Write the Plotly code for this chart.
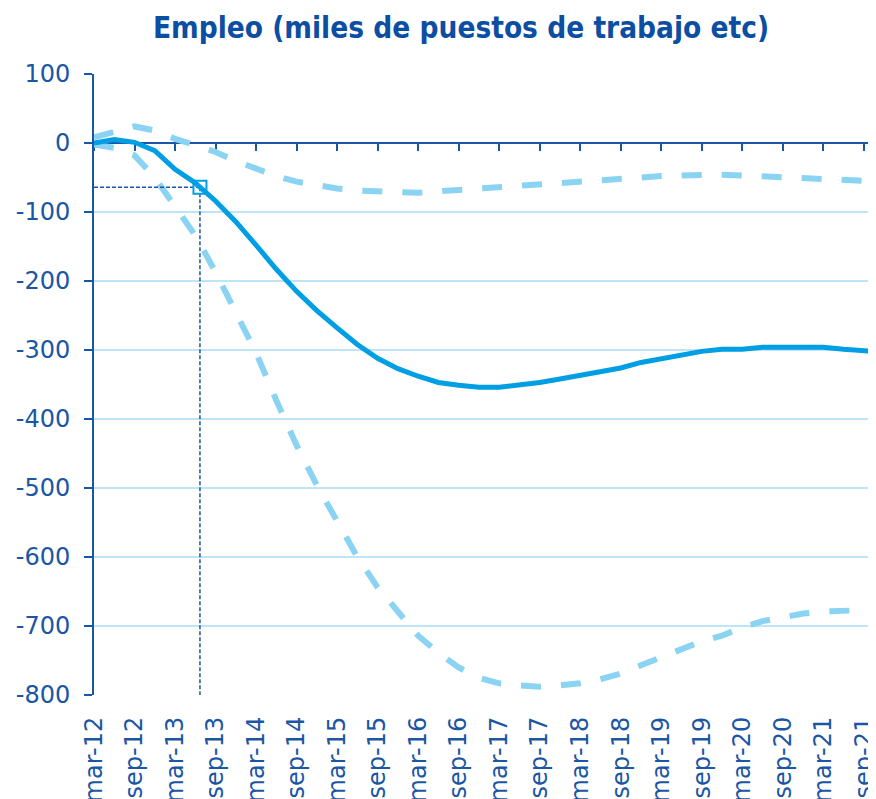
import plotly.graph_objects as go

# Quarterly periods, mar-12 .. dec-21 (index 0 = mar-12)
periods = ["mar-12", "jun-12", "sep-12", "dic-12", "mar-13", "jun-13", "sep-13", "dic-13",
           "mar-14", "jun-14", "sep-14", "dic-14", "mar-15", "jun-15", "sep-15", "dic-15",
           "mar-16", "jun-16", "sep-16", "dic-16", "mar-17", "jun-17", "sep-17", "dic-17",
           "mar-18", "jun-18", "sep-18", "dic-18", "mar-19", "jun-19", "sep-19", "dic-19",
           "mar-20", "jun-20", "sep-20", "dic-20", "mar-21", "jun-21", "sep-21", "dic-21"]

central = [0, 5, 1, -11, -38, -58, -84, -114, -148, -183, -215, -243, -268, -292, -312, -327,
           -338, -347, -351, -354, -354, -351, -347, -342, -337, -332, -326, -318, -313, -308,
           -302, -299, -299, -296, -296, -296, -296, -299, -302, -303]

upper = [8, 17, 24, 18, 6, -3, -13, -26, -38, -48, -56, -62, -66, -69, -70, -71,
         -72, -70, -68, -66, -63, -60, -58, -57, -55, -53, -51, -50, -48, -47,
         -46, -46, -47, -48, -49, -50, -52, -52, -53, -56]

lower = [-2, -7, -18, -50, -92, -134, -187, -246, -304, -373, -438, -496, -548, -600, -644, -680,
         -714, -739, -760, -775, -783, -786, -788, -786, -783, -777, -769, -757, -745, -733,
         -722, -714, -702, -693, -687, -682, -679, -677, -677, -677]

tick_labels = ["mar-12", "sep-12", "mar-13", "sep-13", "mar-14", "sep-14", "mar-15", "sep-15",
               "mar-16", "sep-16", "mar-17", "sep-17", "mar-18", "sep-18", "mar-19", "sep-19",
               "mar-20", "sep-20", "mar-21", "sep-21"]

y_tick_vals = [100, 0, -100, -200, -300, -400, -500, -600, -700, -800]
y_tick_text = ["100", "0", "-100", "-200", "-300", "-400", "-500", "-600", "-700", "-800"]

highlight_x = 5.23
highlight_y = -64

y_min, y_max = -800, 100

x = list(range(len(periods)))
tick_vals = x[::2][:len(tick_labels)]

DARK = "#1B56A5"
SOLID = "#009FE3"
LIGHT = "#8BD3F3"
GRID = "#BDE5F7"

fig = go.Figure()

fig.add_trace(go.Scatter(x=x, y=lower, mode="lines", hoverinfo="skip",
                         line=dict(color=LIGHT, width=6, dash="20px,20px")))
fig.add_trace(go.Scatter(x=x, y=upper, mode="lines", hoverinfo="skip",
                         line=dict(color=LIGHT, width=6, dash="20px,20px")))

# guide lines to the highlighted point
fig.add_trace(go.Scatter(x=[0, highlight_x], y=[highlight_y, highlight_y], mode="lines",
                         hoverinfo="skip", line=dict(color=DARK, width=1.5, dash="4px,2px")))
fig.add_trace(go.Scatter(x=[highlight_x, highlight_x], y=[highlight_y, y_min], mode="lines",
                         hoverinfo="skip", line=dict(color=DARK, width=1.5, dash="4px,2px")))

fig.add_trace(go.Scatter(x=x, y=central, mode="lines", hoverinfo="skip",
                         line=dict(color=SOLID, width=5)))

fig.add_trace(go.Scatter(x=[highlight_x], y=[highlight_y], mode="markers", hoverinfo="skip",
                         marker=dict(symbol="square-open", size=13, color=SOLID,
                                     line=dict(width=2, color=SOLID))))

# invisible trace for the zero-line axis
fig.add_trace(go.Scatter(x=[0], y=[0], xaxis="x2", mode="markers",
                         marker=dict(opacity=0), hoverinfo="skip"))

x_range = [0, 38.6]

# The page body has an 8px offset, so the figure is sized to the remaining window.
fig.update_layout(
    width=868, height=791,
    margin=dict(l=86, r=0, t=66, b=104, autoexpand=False),
    paper_bgcolor="white", plot_bgcolor="white",
    showlegend=False,
    title=dict(text="<b>Empleo (miles de puestos de trabajo etc)</b>",
               font=dict(family="Liberation Sans Narrow, DejaVu Sans Condensed, Liberation Sans",
                         size=29.5, color="#0B4EA2"),
               x=453 / 868, xanchor="center", xref="container",
               y=1 - 20 / 791, yanchor="middle", yref="container"),
    xaxis=dict(range=x_range, tickmode="array", tickvals=tick_vals, ticktext=tick_labels,
               tickangle=-90, showgrid=False, showline=False, zeroline=False,
               ticks="", ticklabelstandoff=16, automargin=False, ticklabeloverflow="allow",
               tickfont=dict(family="DejaVu Sans", size=24, color=DARK)),
    xaxis2=dict(range=x_range, overlaying="x", anchor="free", position=(0 - y_min) / (y_max - y_min),
                side="bottom", showline=True, linecolor=DARK, linewidth=2,
                ticks="outside", ticklen=7, tickwidth=2, tickcolor=DARK,
                tickmode="array", tickvals=tick_vals, showticklabels=False,
                showgrid=False, zeroline=False, layer="below traces"),
    yaxis=dict(range=[y_min, y_max], tickmode="array", tickvals=y_tick_vals, ticktext=y_tick_text,
               showgrid=True, gridcolor=GRID,
               gridwidth=2, zeroline=False, showline=True, linecolor=DARK, linewidth=2,
               ticks="outside", ticklen=8, tickwidth=2, tickcolor=DARK, automargin=False,
               ticklabelstandoff=9, layer="below traces",
               tickfont=dict(family="DejaVu Sans", size=24, color=DARK)),
)

fig.write_html("out.html")
